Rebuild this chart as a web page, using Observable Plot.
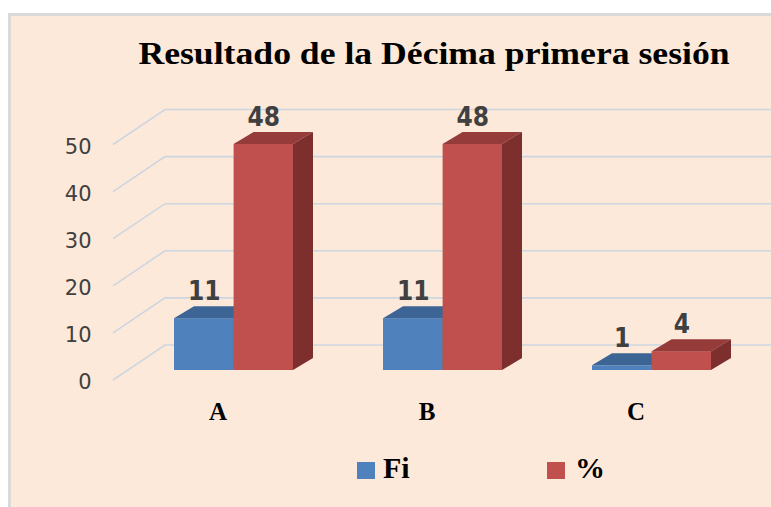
<!DOCTYPE html>
<html><head><meta charset="utf-8">
<script src="https://cdn.jsdelivr.net/npm/d3@7"></script>
<script src="https://cdn.jsdelivr.net/npm/@observablehq/plot@0.6"></script>
<style>
html,body{margin:0;padding:0;background:#fff;}
body{width:771px;height:507px;overflow:hidden;position:relative;}
#frame{position:absolute;left:8px;top:13px;width:800px;height:520px;background:#FDE9D9;border-left:3px solid #D9D9D9;border-top:3px solid #D9D9D9;box-sizing:border-box;}
#title{position:absolute;left:0;top:38px;width:868px;text-align:center;font-family:"Liberation Serif","Times New Roman",serif;font-weight:bold;font-size:31px;line-height:32px;color:#000;white-space:nowrap;transform:scaleX(1.15);transform-origin:434px 0;}
#chart{position:absolute;left:0;top:0;}
.sw{position:absolute;width:18px;height:17px;top:462px;}
.lt{position:absolute;top:453px;font-family:"Liberation Serif","Times New Roman",serif;font-weight:bold;font-size:30px;line-height:30px;color:#000;white-space:nowrap;}
</style></head>
<body>
<div id="frame"></div>
<div id="title">Resultado de la Décima primera sesión</div>
<div id="chart"></div>
<div id="legend"></div>
<script>
// ---- data ----
const categories = ["A", "B", "C"];
const seriesNames = ["Fi", "%"];
const fiValues = [11, 11, 1];
const pctValues = [48, 48, 4];
const yTicks = [0, 10, 20, 30, 40, 50];

const seriesColors = {
  "Fi": {front: "#4F81BD", top: "#3C6494", side: "#2F4F76"},
  "%":  {front: "#C0504D", top: "#953B39", side: "#7D2F2E"}
};

const rows = [];
categories.forEach((c, i) => {
  rows.push({cat: c, series: "Fi", value: fiValues[i]});
  rows.push({cat: c, series: "%", value: pctValues[i]});
});

// 3D projection offsets (pixels)
const DX = 20, DY = 12;

function box3d(series, insetLeft, insetRight) {
  const data = rows.filter(r => r.series === series);
  const col = seriesColors[series];
  return Plot.barY(data, {
    x: "cat", y: "value", fill: col.front, insetLeft, insetRight,
    render(index, scales, values, dims, ctx, next) {
      const g = next(index, scales, values, dims, ctx);
      const x = scales.x, y = scales.y;
      const bw = typeof x.bandwidth === "function" ? x.bandwidth() : x.bandwidth;
      const sel = d3.select(g);
      for (const i of index) {
        const d = data[i];
        const x0 = x(d.cat) + insetLeft, x1 = x(d.cat) + bw - insetRight;
        const yt = y(d.value), yb = y(0);
        sel.append("path")
          .attr("d", `M${x0},${yt}L${x0 + DX},${yt - DY}L${x1 + DX},${yt - DY}L${x1},${yt}Z`)
          .attr("fill", col.top);
        sel.append("path")
          .attr("d", `M${x1},${yt}L${x1 + DX},${yt - DY}L${x1 + DX},${yb - DY}L${x1},${yb}Z`)
          .attr("fill", col.side);
      }
      return g;
    }
  });
}

// grid: left wall diagonal + back wall horizontal
const grid = Plot.ruleY(yTicks, {
  y: d => d,
  render(index, scales, values, dims, ctx) {
    const y = scales.y;
    const g = d3.create("svg:g");
    const xl = dims.marginLeft - 16, xb = dims.marginLeft + 36, xr = dims.width;
    for (const i of index) {
      const yy = y(yTicks[i]);
      g.append("path")
        .attr("d", `M${xl},${yy + 10}L${xb},${yy - 25}L${xr},${yy - 25}`)
        .attr("fill", "none")
        .attr("stroke", "#CDD6E0")
        .attr("stroke-width", 1.6);
    }
    return g.node();
  }
});

const half = 119.2 / 2;
const labelStyle = {
  lineAnchor: "middle",
  fontFamily: "DejaVu Sans Condensed, DejaVu Sans, sans-serif",
  fontWeight: "bold", fontSize: 26, fill: "#404040"
};

const chart = Plot.plot({
  width: 771,
  height: 507,
  marginLeft: 129,
  marginRight: 14.5,
  marginTop: 134.5,
  marginBottom: 137,
  style: {background: "transparent", overflow: "visible"},
  x: {domain: categories, paddingInner: 0.43, paddingOuter: 0.215, axis: null},
  y: {domain: [0, 50], axis: null},
  marks: [
    grid,
    box3d("Fi", 0, half),
    box3d("%", half, 0),
    Plot.text(rows.filter(d => d.series === "Fi"), {
      x: "cat", y: "value", text: d => String(d.value), dx: -half / 2, dy: -27, ...labelStyle
    }),
    Plot.text(rows.filter(d => d.series === "%"), {
      x: "cat", y: "value", text: d => String(d.value), dx: half / 2, dy: -27, ...labelStyle
    }),
    Plot.axisY({ticks: yTicks, tickSize: 0, tickPadding: 38, dy: 12,
      fontSize: 21, fontFamily: "DejaVu Sans, sans-serif", color: "#404040", label: null, tickFormat: d => String(d)}),
    Plot.text(categories, {x: d => d, y: () => 0, dx: -16, dy: 41, text: d => d, lineAnchor: "middle",
      fontFamily: "Liberation Serif, Times New Roman, serif", fontWeight: "bold", fontSize: 25, fill: "#000"})
  ]
});
document.getElementById("chart").appendChild(chart);

// legend
const legend = document.getElementById("legend");
const legendPos = {"Fi": {sw: 357, tx: 383}, "%": {sw: 547, tx: 575}};
seriesNames.forEach(s => {
  const sw = document.createElement("div");
  sw.className = "sw";
  sw.style.left = legendPos[s].sw + "px";
  sw.style.background = seriesColors[s].front;
  legend.appendChild(sw);
  const t = document.createElement("div");
  t.className = "lt";
  t.style.left = legendPos[s].tx + "px";
  t.textContent = s;
  legend.appendChild(t);
});
</script>
</body></html>
